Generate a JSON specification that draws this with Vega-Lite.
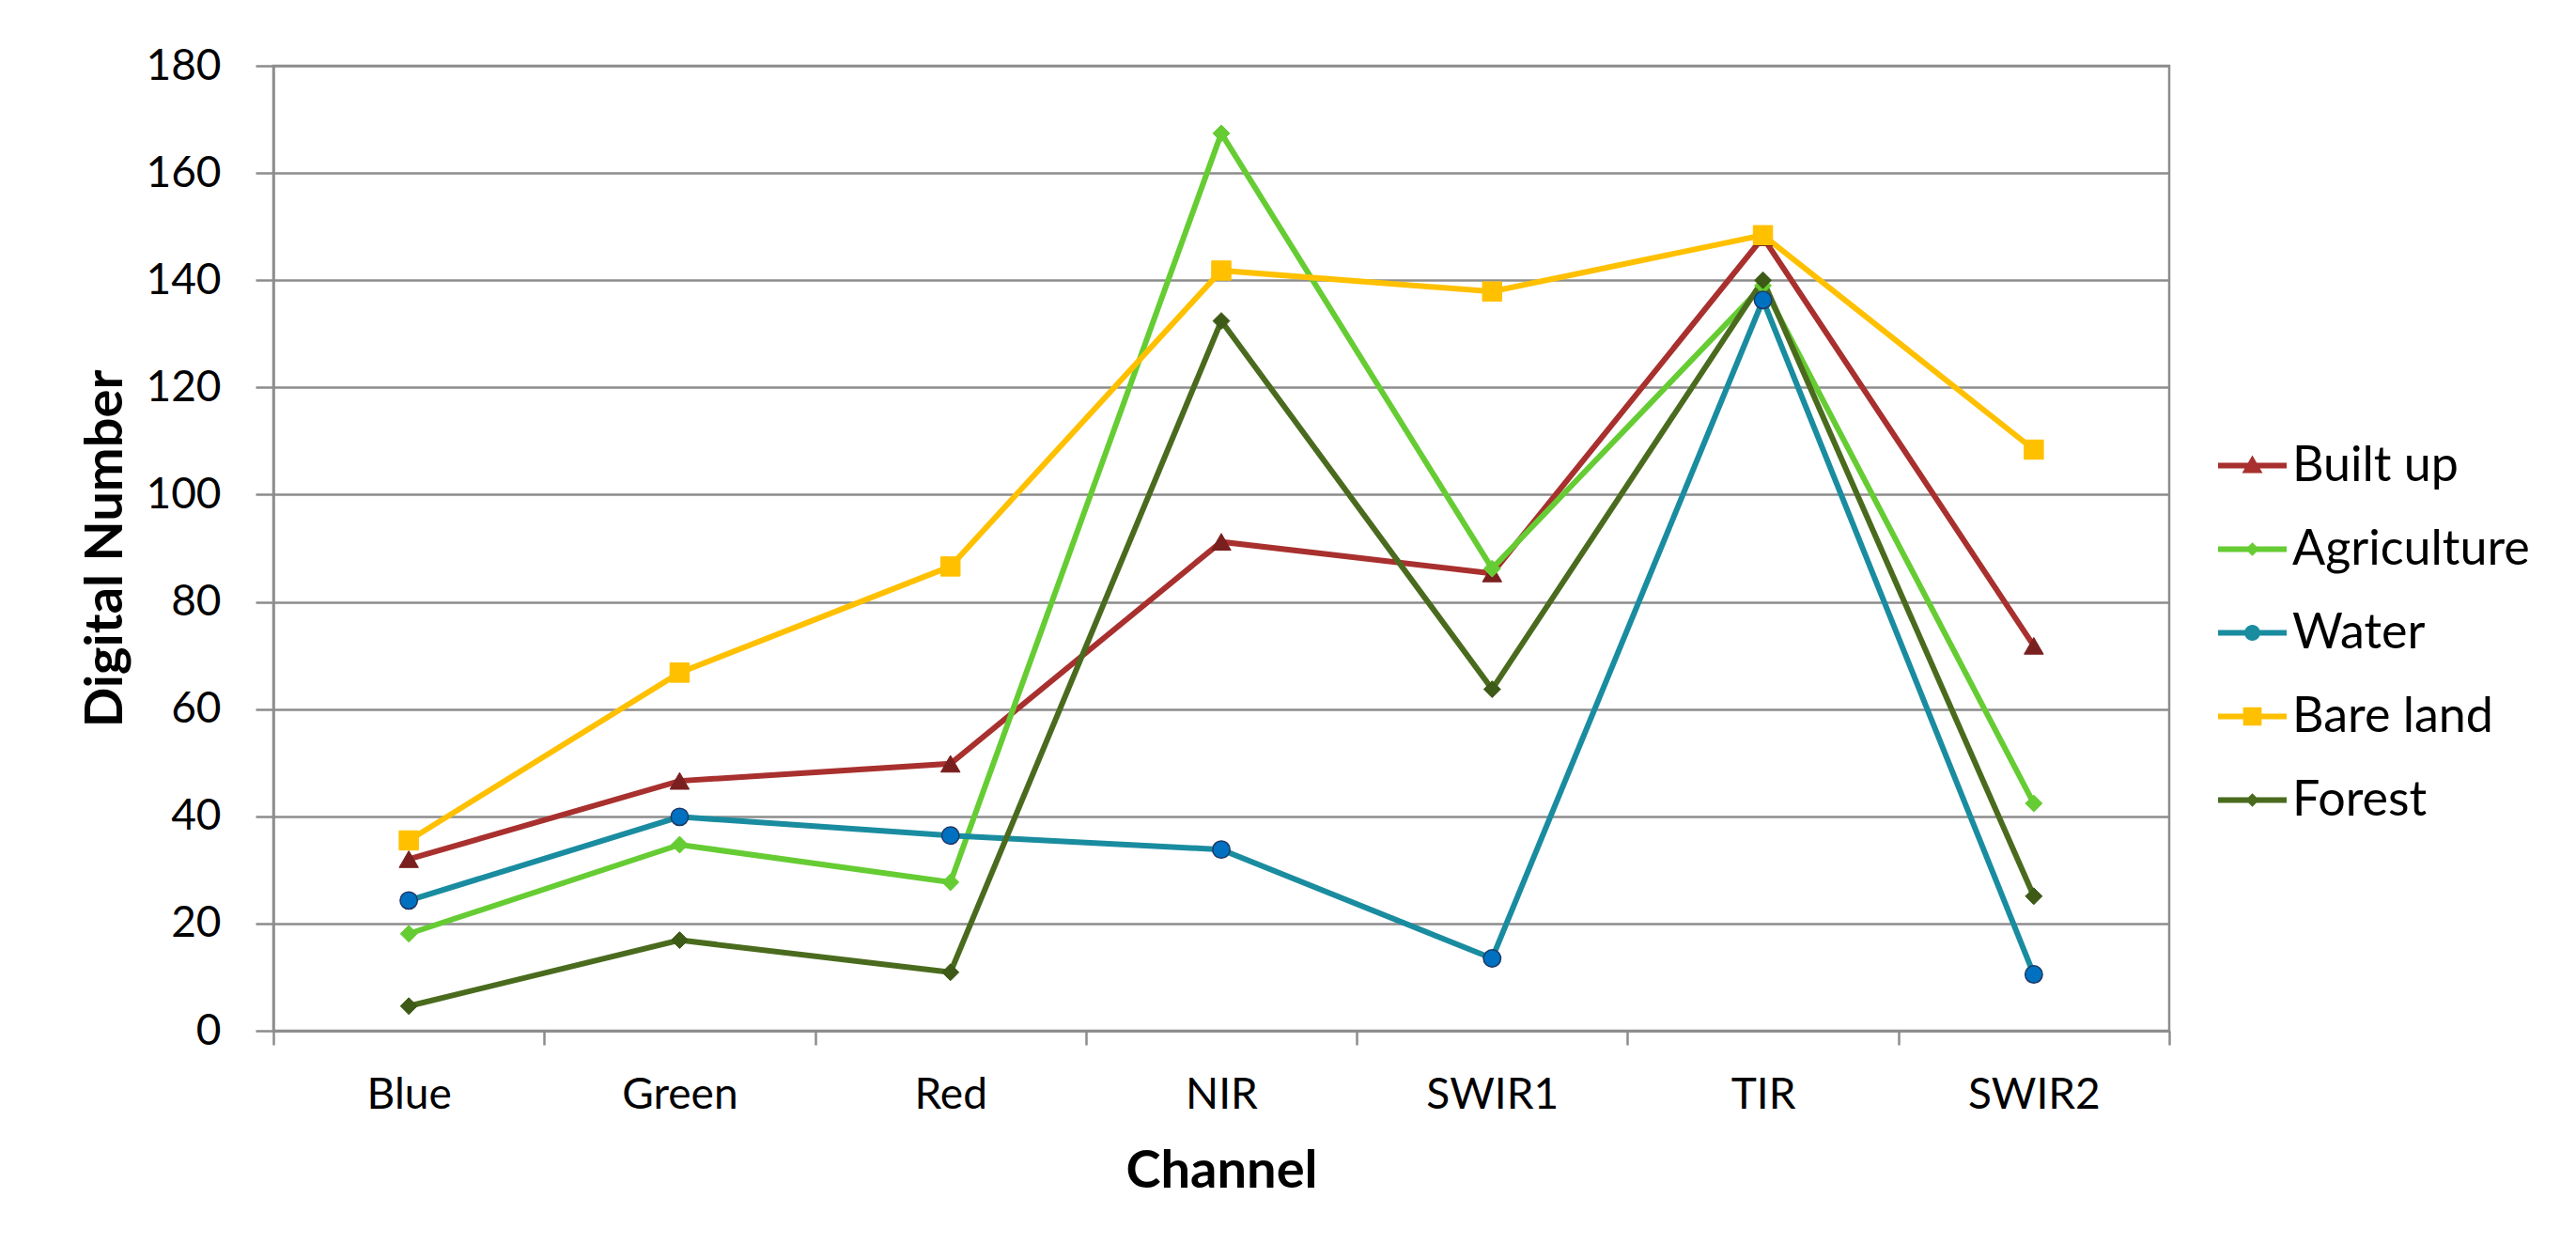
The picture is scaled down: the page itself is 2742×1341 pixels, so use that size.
{
  "$schema": "https://vega.github.io/schema/vega-lite/v6.json",
  "width": 2018,
  "height": 1027,
  "autosize": {"type": "none"},
  "padding": {"left": 291, "top": 70, "right": 433, "bottom": 244},
  "background": "white",
  "config": {
    "view": {"stroke": "#8c8c8c", "strokeWidth": 2.5},
    "font": "Lato"
  },
  "data": {
    "values": [
      {"channel": "Blue", "class": "Built up", "value": 32.0},
      {"channel": "Green", "class": "Built up", "value": 46.6},
      {"channel": "Red", "class": "Built up", "value": 49.8},
      {"channel": "NIR", "class": "Built up", "value": 91.2},
      {"channel": "SWIR1", "class": "Built up", "value": 85.3},
      {"channel": "TIR", "class": "Built up", "value": 148.0},
      {"channel": "SWIR2", "class": "Built up", "value": 71.8},
      {"channel": "Blue", "class": "Agriculture", "value": 18.1},
      {"channel": "Green", "class": "Agriculture", "value": 34.7},
      {"channel": "Red", "class": "Agriculture", "value": 27.7},
      {"channel": "NIR", "class": "Agriculture", "value": 167.4},
      {"channel": "SWIR1", "class": "Agriculture", "value": 86.2},
      {"channel": "TIR", "class": "Agriculture", "value": 139.0},
      {"channel": "SWIR2", "class": "Agriculture", "value": 42.4},
      {"channel": "Blue", "class": "Water", "value": 24.3},
      {"channel": "Green", "class": "Water", "value": 39.9},
      {"channel": "Red", "class": "Water", "value": 36.4},
      {"channel": "NIR", "class": "Water", "value": 33.8},
      {"channel": "SWIR1", "class": "Water", "value": 13.5},
      {"channel": "TIR", "class": "Water", "value": 136.3},
      {"channel": "SWIR2", "class": "Water", "value": 10.5},
      {"channel": "Blue", "class": "Bare land", "value": 35.5},
      {"channel": "Green", "class": "Bare land", "value": 66.8},
      {"channel": "Red", "class": "Bare land", "value": 86.6},
      {"channel": "NIR", "class": "Bare land", "value": 141.8},
      {"channel": "SWIR1", "class": "Bare land", "value": 137.9},
      {"channel": "TIR", "class": "Bare land", "value": 148.4},
      {"channel": "SWIR2", "class": "Bare land", "value": 108.4},
      {"channel": "Blue", "class": "Forest", "value": 4.6},
      {"channel": "Green", "class": "Forest", "value": 16.9},
      {"channel": "Red", "class": "Forest", "value": 10.9},
      {"channel": "NIR", "class": "Forest", "value": 132.4},
      {"channel": "SWIR1", "class": "Forest", "value": 63.7},
      {"channel": "TIR", "class": "Forest", "value": 140.0},
      {"channel": "SWIR2", "class": "Forest", "value": 25.1}
    ]
  },
  "encoding": {
    "x": {
      "field": "channel",
      "type": "nominal",
      "sort": ["Blue", "Green", "Red", "NIR", "SWIR1", "TIR", "SWIR2"],
      "scale": {"type": "band", "paddingInner": 0, "paddingOuter": 0},
      "axis": {
        "title": "Channel",
        "titleFont": "Lato",
        "titleFontSize": 56,
        "titleFontWeight": "bold",
        "titleColor": "black",
        "titleY": 166,
        "titleBaseline": "alphabetic",
        "labelFont": "Lato",
        "labelFontSize": 46,
        "labelColor": "black",
        "labelBaseline": "alphabetic",
        "labelPadding": 67,
        "labelAngle": 0,
        "tickSize": 15,
        "tickWidth": 2.5,
        "tickColor": "#8c8c8c",
        "tickBand": "extent",
        "domainColor": "#8c8c8c",
        "domainWidth": 2.5,
        "grid": false
      }
    },
    "y": {
      "field": "value",
      "type": "quantitative",
      "scale": {"domain": [0, 180], "nice": false},
      "axis": {
        "title": "Digital Number",
        "titleFont": "Lato",
        "titleFontSize": 56,
        "titleFontWeight": "bold",
        "titleColor": "black",
        "titleX": -162,
        "titleY": 513.5,
        "titleBaseline": "alphabetic",
        "titleAngle": 270,
        "values": [0, 20, 40, 60, 80, 100, 120, 140, 160, 180],
        "labelFont": "Lato",
        "labelFontSize": 46,
        "labelColor": "black",
        "labelPadding": 37,
        "labelBaseline": "middle",
        "tickSize": 19,
        "tickWidth": 2.5,
        "tickColor": "#8c8c8c",
        "grid": true,
        "gridColor": "#8c8c8c",
        "gridWidth": 2.5,
        "domainColor": "#8c8c8c",
        "domainWidth": 2.5
      }
    }
  },
  "layer": [
    {
      "mark": {"type": "line", "strokeWidth": 6},
      "encoding": {
        "color": {
          "field": "class",
          "type": "nominal",
          "scale": {
            "domain": ["Built up", "Agriculture", "Water", "Bare land", "Forest"],
            "range": ["#A8302E", "#66CC33", "#1A8CA0", "#FFC000", "#4A6B1E"]
          },
          "legend": {
            "orient": "none",
            "legendX": 2070,
            "legendY": 389,
            "title": null,
            "padding": 0,
            "labelFont": "Lato",
            "labelFontSize": 52,
            "labelColor": "black",
            "labelLimit": 0,
            "labelOffset": 6,
            "rowPadding": 26,
            "symbolSize": 5329,
            "encode": {
              "symbols": {
                "update": {
                  "shape": {"signal": "datum.value === 'Built up' ? 'M-1,-0.08L1,-0.08L1,0.08L-1,0.08ZM0,-0.3L0.3,0.22L-0.3,0.22Z' : datum.value === 'Water' ? 'M-1,-0.08L1,-0.08L1,0.08L-1,0.08ZM-0.23,0A0.23,0.23,0,1,1,0.23,0A0.23,0.23,0,1,1,-0.23,0Z' : datum.value === 'Bare land' ? 'M-1,-0.08L1,-0.08L1,0.08L-1,0.08ZM-0.27,-0.27L0.27,-0.27L0.27,0.27L-0.27,0.27Z' : 'M-1,-0.08L1,-0.08L1,0.08L-1,0.08ZM0,-0.2L0.2,0L0,0.2L-0.2,0Z'"},
                  "fill": {"signal": "scale('color', datum.value)"},
                  "stroke": {"value": "transparent"},
                  "strokeWidth": {"value": 0},
                  "opacity": {"value": 1}
                }
              }
            }
          }
        }
      }
    },
    {
      "transform": [{"filter": "datum['class'] === 'Built up'"}],
      "mark": {"type": "point", "shape": "triangle-up", "filled": true, "size": 420, "opacity": 1, "fill": "#7A1F1F", "stroke": "#7A1F1F", "strokeWidth": 1}
    },
    {
      "transform": [{"filter": "datum['class'] === 'Agriculture'"}],
      "mark": {"type": "point", "shape": "diamond", "filled": true, "size": 320, "opacity": 1, "fill": "#66CC33", "stroke": "#66CC33", "strokeWidth": 1}
    },
    {
      "transform": [{"filter": "datum['class'] === 'Water'"}],
      "mark": {"type": "point", "shape": "circle", "filled": true, "size": 340, "opacity": 1, "fill": "#0070C0", "stroke": "#1F3864", "strokeWidth": 1.5}
    },
    {
      "transform": [{"filter": "datum['class'] === 'Bare land'"}],
      "mark": {"type": "point", "shape": "square", "filled": true, "size": 420, "opacity": 1, "fill": "#FFC000", "stroke": "#FFC000", "strokeWidth": 1}
    },
    {
      "transform": [{"filter": "datum['class'] === 'Forest'"}],
      "mark": {"type": "point", "shape": "diamond", "filled": true, "size": 320, "opacity": 1, "fill": "#3D5A17", "stroke": "#3D5A17", "strokeWidth": 1}
    }
  ]
}
